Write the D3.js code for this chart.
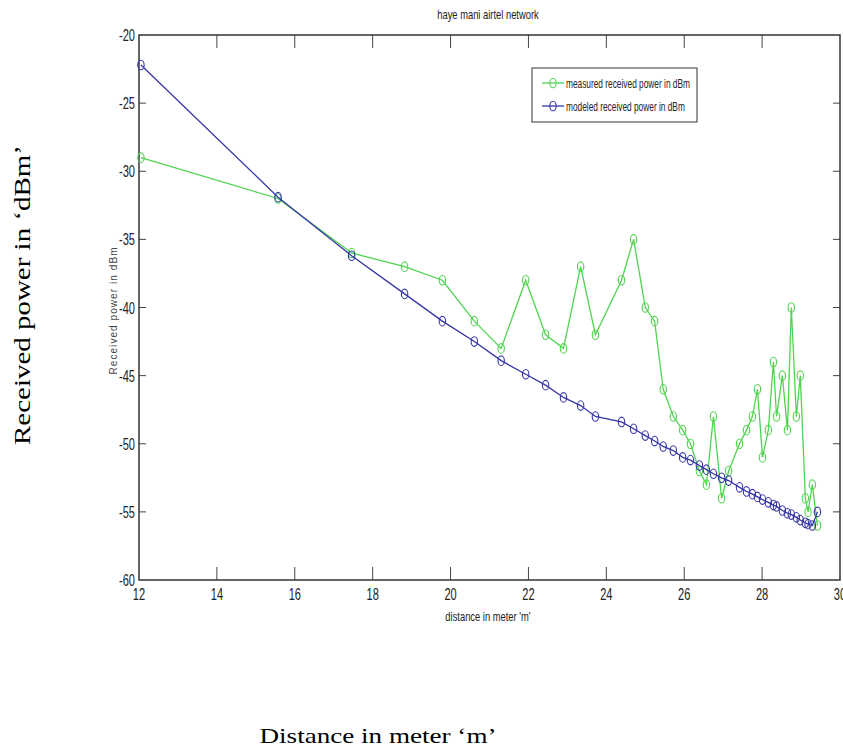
<!DOCTYPE html>
<html>
<head>
  <script src="https://d3js.org/d3.v7.min.js"></script>
  <style>
  body { margin: 0; background: #fff; }
  svg { display: block; }
  </style>
</head>
<body>
  <script>
  var w = 843;
  var h = 751;

  //Distances in metres (shared by both series)
  var distance = [12.05, 15.57, 17.46, 18.82, 19.79, 20.61, 21.30, 21.93, 22.44, 22.90,
    23.34, 23.72, 24.39, 24.70, 25.00, 25.24, 25.46, 25.72, 25.96, 26.16,
    26.39, 26.57, 26.75, 26.96, 27.14, 27.42, 27.60, 27.75, 27.88, 28.01,
    28.16, 28.29, 28.37, 28.52, 28.65, 28.75, 28.88, 28.98, 29.11, 29.18,
    29.29, 29.42];

  //Measured received power (dBm)
  var measured = [-29, -32, -36, -37, -38, -41, -43, -38, -42, -43,
    -37, -42, -38, -35, -40, -41, -46, -48, -49, -50,
    -52, -53, -48, -54, -52, -50, -49, -48, -46, -51,
    -49, -44, -48, -45, -49, -40, -48, -45, -54, -55,
    -53, -56];

  //Modeled received power (dBm)
  var modeled = [-22.2, -31.9, -36.2, -39.0, -41.0, -42.5, -43.9, -44.9, -45.7, -46.6,
    -47.2, -48.0, -48.4, -48.9, -49.4, -49.8, -50.2, -50.5, -51.0, -51.2,
    -51.6, -51.9, -52.2, -52.5, -52.7, -53.2, -53.5, -53.7, -53.9, -54.1,
    -54.3, -54.5, -54.6, -54.9, -55.1, -55.2, -55.4, -55.6, -55.8, -55.9,
    -56.0, -55.0];

  var xTicks = [12, 14, 16, 18, 20, 22, 24, 26, 28, 30];
  var yTicks = [-20, -25, -30, -35, -40, -45, -50, -55, -60];

  var seriesNames = ["measured received power in dBm", "modeled received power in dBm"];
  var seriesColors = ["#4fd44f", "#3535a6"];

  //Plot box (window.top is reserved, so keep these in an object)
  var box = {left: 139, right: 840, top: 35, bottom: 580};

  var x = d3.scaleLinear().domain([12, 30]).range([box.left, box.right]);
  var y = d3.scaleLinear().domain([-60, -20]).range([box.bottom, box.top]);

  var svg = d3.select("body")
    .append("svg")
    .attr("width", w)
    .attr("height", h);

  //Squash text horizontally like the stretched original figure
  function squish(sel, k){
    sel.each(function(){
      var len = this.getComputedTextLength();
      d3.select(this)
        .attr("textLength", len * k)
        .attr("lengthAdjust", "spacingAndGlyphs");
    });
  }

  var narrow = "'Liberation Sans Narrow', 'Liberation Sans', Arial, sans-serif";

  //Ticks, pointing inwards on all four sides
  var tickG = svg.append("g").attr("stroke", "#444").attr("stroke-width", 1);
  xTicks.slice(1, -1).forEach(function(t){
    tickG.append("line").attr("x1", x(t)).attr("x2", x(t)).attr("y1", box.bottom).attr("y2", box.bottom - 13);
    tickG.append("line").attr("x1", x(t)).attr("x2", x(t)).attr("y1", box.top).attr("y2", box.top + 13);
  });
  yTicks.slice(1, -1).forEach(function(t){
    tickG.append("line").attr("x1", box.left).attr("x2", box.left + 7).attr("y1", y(t)).attr("y2", y(t));
    tickG.append("line").attr("x1", box.right).attr("x2", box.right - 7).attr("y1", y(t)).attr("y2", y(t));
  });

  //Box
  svg.append("rect")
    .attr("x", box.left).attr("y", box.top)
    .attr("width", box.right - box.left).attr("height", box.bottom - box.top)
    .attr("fill", "none")
    .attr("stroke", "#333")
    .attr("stroke-width", 1.5);

  //Tick labels
  svg.append("g").selectAll("text")
    .data(xTicks)
    .enter().append("text")
      .attr("x", function(d){ return x(d); })
      .attr("y", box.bottom + 20)
      .attr("text-anchor", "middle")
      .attr("font-family", narrow)
      .attr("font-size", 17)
      .attr("fill", "#222")
      .text(function(d){ return d; })
      .call(squish, 0.65);

  svg.append("g").selectAll("text")
    .data(yTicks)
    .enter().append("text")
      .attr("x", box.left - 4)
      .attr("y", function(d){ return y(d) + 6; })
      .attr("text-anchor", "end")
      .attr("font-family", narrow)
      .attr("font-size", 17)
      .attr("fill", "#222")
      .text(function(d){ return d; })
      .call(squish, 0.65);

  //Title and axis labels of the inner figure
  svg.append("text")
    .attr("x", 488).attr("y", 19)
    .attr("text-anchor", "middle")
    .attr("font-family", narrow)
    .attr("font-size", 13)
    .attr("fill", "#222")
    .text("haye mani airtel network")
    .call(squish, 0.72);

  svg.append("text")
    .attr("x", 488).attr("y", 621)
    .attr("text-anchor", "middle")
    .attr("font-family", narrow)
    .attr("font-size", 13)
    .attr("fill", "#222")
    .text("distance in meter 'm'")
    .call(squish, 0.72);

  svg.append("text")
    .attr("transform", "translate(117,311)rotate(-90)")
    .attr("text-anchor", "middle")
    .attr("font-family", "'Liberation Sans', Arial, sans-serif")
    .attr("font-size", 10)
    .attr("fill", "#444")
    .attr("textLength", 127)
    .attr("lengthAdjust", "spacing")
    .text("Received power in dBm");

  //Outer labels
  svg.append("text")
    .attr("transform", "translate(30,295)rotate(-90)")
    .attr("text-anchor", "middle")
    .attr("font-family", "'Liberation Serif', 'Times New Roman', serif")
    .attr("font-size", 23)
    .attr("fill", "#000")
    .attr("textLength", 300)
    .attr("lengthAdjust", "spacingAndGlyphs")
    .text("Received power in \u2018dBm\u2019");

  svg.append("text")
    .attr("x", 378).attr("y", 743)
    .attr("text-anchor", "middle")
    .attr("font-family", "'Liberation Serif', 'Times New Roman', serif")
    .attr("font-size", 21)
    .attr("fill", "#000")
    .attr("textLength", 237)
    .attr("lengthAdjust", "spacingAndGlyphs")
    .text("Distance in meter \u2018m\u2019");

  //Series
  var line = d3.line()
    .x(function(d){ return x(d[0]); })
    .y(function(d){ return y(d[1]); });

  [measured, modeled].forEach(function(vals, i){
    var pts = d3.zip(distance, vals);
    var g = svg.append("g");
    g.append("path")
      .attr("d", line(pts))
      .attr("fill", "none")
      .attr("stroke", seriesColors[i])
      .attr("stroke-width", 1.3);
    g.selectAll("ellipse")
      .data(pts)
      .enter().append("ellipse")
        .attr("cx", function(d){ return x(d[0]); })
        .attr("cy", function(d){ return y(d[1]); })
        .attr("rx", 3.2)
        .attr("ry", 4.8)
        .attr("fill", "none")
        .attr("stroke", seriesColors[i])
        .attr("stroke-width", 1.1);
  });

  //Legend
  var lg = svg.append("g");
  lg.append("rect")
    .attr("x", 532).attr("y", 68)
    .attr("width", 165).attr("height", 54)
    .attr("fill", "#fff")
    .attr("stroke", "#333")
    .attr("stroke-width", 1);
  seriesNames.forEach(function(name, i){
    var ly = 83 + i * 23;
    lg.append("line")
      .attr("x1", 542).attr("x2", 564)
      .attr("y1", ly).attr("y2", ly)
      .attr("stroke", seriesColors[i])
      .attr("stroke-width", 1.3);
    lg.append("ellipse")
      .attr("cx", 553).attr("cy", ly)
      .attr("rx", 3.2).attr("ry", 4.8)
      .attr("fill", "none")
      .attr("stroke", seriesColors[i])
      .attr("stroke-width", 1.1);
    lg.append("text")
      .attr("x", 566).attr("y", ly + 5)
      .attr("font-family", narrow)
      .attr("font-size", 13)
      .attr("fill", "#222")
      .text(name)
      .call(squish, 0.64);
  });
  </script>
</body>
</html>
